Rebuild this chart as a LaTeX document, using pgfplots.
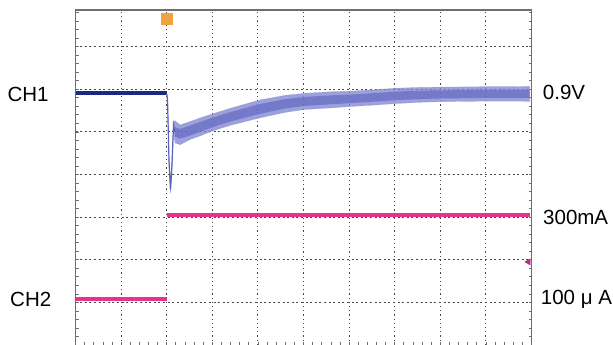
\documentclass[border=0pt]{standalone}
\usepackage{pgfplots}
\pgfplotsset{compat=1.18}
\usepackage{fontspec}
\setmainfont{Liberation Sans}
\definecolor{framegray}{HTML}{6E6E6E}
\definecolor{gridgray}{HTML}{4A4A4A}
\definecolor{navy}{HTML}{1C2A86}
\definecolor{bandblue}{HTML}{8389D2}
\definecolor{coreblue}{HTML}{5A62BE}
\definecolor{pinkch}{HTML}{E3207C}
\definecolor{trigor}{HTML}{EFA23E}
\definecolor{markpink}{HTML}{B42A8E}
\begin{document}
\begin{tikzpicture}
\path[use as bounding box] (0,0) rectangle (613pt,345pt);
\begin{axis}[
  at={(75.5pt,0pt)}, anchor=south west,
  scale only axis, width=456pt, height=335pt,
  xmin=0, xmax=10, ymin=0, ymax=7.86,
  xtick={0,...,10}, ytick={0,...,7},
  minor xtick={0,0.2,...,10}, minor ytick={0,0.2,...,7.8},
  xticklabels={}, yticklabels={},
  xtick pos=bottom, ytick pos=both,
  tick align=inside,
  major tick length=3pt, minor tick length=3pt,
  tick style={framegray, line width=0.7pt},
  axis line style={draw=none},
  grid=major,
  major x grid style={gridgray, line width=0.9pt, dash pattern=on 1.2pt off 3pt},
  major y grid style={gridgray, line width=0.9pt, dash pattern=on 2pt off 2.6pt},
  clip=false,
]
% frame (top, left, right)
\draw[framegray, line width=1.4pt] (axis cs:0,0) -- (axis cs:0,7.86) -- (axis cs:10,7.86) -- (axis cs:10,0);

% CH2 (pink)
\addplot[pinkch, line width=3.6pt, opacity=0.9] coordinates {(0,1.08) (2.0,1.08)};
\addplot[pinkch, line width=3.6pt, opacity=0.9] coordinates {(2.0,3.045) (9.97,3.045)};

% CH1 pre-trigger
\addplot[navy, line width=3.8pt] coordinates {(0,5.92) (2.0,5.92)};

% CH1 post-trigger noisy band (outer envelope)
\addplot[fill=bandblue, draw=bandblue, line width=0.4pt, fill opacity=0.8, draw opacity=0.5] coordinates {
(2.000,5.90) (2.018,5.798) (2.050,4.420) (2.083,3.717) (2.116,4.320) (2.149,5.254)
(2.182,5.260) (2.292,5.163) (2.511,5.240) (2.730,5.327) (3.015,5.425) (3.388,5.552)
(4.046,5.750) (4.594,5.857) (5.033,5.906) (5.581,5.941) (6.020,5.955) (6.568,5.990)
(7.029,6.025) (7.555,6.044) (8.015,6.050) (8.542,6.055) (9.024,6.062) (9.529,6.062) (9.960,6.067)
(9.960,5.717) (9.529,5.722) (9.024,5.722) (8.542,5.715) (8.015,5.710) (7.555,5.694)
(7.029,5.665) (6.568,5.630) (6.020,5.595) (5.581,5.561) (5.033,5.526) (4.594,5.457)
(4.046,5.330) (3.388,5.152) (3.015,5.025) (2.730,4.907) (2.511,4.820) (2.292,4.700)
(2.182,4.740) (2.149,5.054) (2.116,4.125) (2.083,3.559) (2.050,4.266) (2.018,5.704) (2.000,5.85)
} -- cycle;
% inner denser core
\addplot[fill=coreblue, draw=none, fill opacity=0.6] coordinates {
(2.182,5.110) (2.292,5.068) (2.511,5.145) (2.730,5.232) (3.015,5.335) (3.388,5.462)
(4.046,5.655) (4.594,5.767) (5.033,5.821) (5.581,5.856) (6.020,5.875) (6.568,5.910)
(7.029,5.945) (7.555,5.969) (8.015,5.975) (8.542,5.980) (9.024,5.987) (9.529,5.987) (9.960,5.987)
(9.960,5.797) (9.529,5.797) (9.024,5.797) (8.542,5.790) (8.015,5.785) (7.555,5.769)
(7.029,5.745) (6.568,5.710) (6.020,5.675) (5.581,5.646) (5.033,5.611) (4.594,5.547)
(4.046,5.425) (3.388,5.242) (3.015,5.115) (2.730,5.002) (2.511,4.915) (2.292,4.838) (2.182,4.890)
} -- cycle;
% spike trace
\addplot[coreblue, line width=1.2pt] coordinates {
(2.000,5.90) (2.018,5.751) (2.050,4.343) (2.083,3.638) (2.116,4.225) (2.149,5.164) (2.182,5.000)
};

% trigger marker and CH2 reference marker
\addplot[only marks, mark=square*, mark size=5.2pt, mark options={fill=trigor, draw=trigor, rounded corners=1pt}] coordinates {(2.0,7.66)};
\addplot[only marks, mark=triangle*, mark size=3.5pt, mark options={rotate=90, fill=markpink, draw=markpink}] coordinates {(9.93,1.95)};
\end{axis}
\begin{scope}[every node/.style={inner sep=0pt, anchor=base west, font=\fontsize{20.5}{24}\selectfont}]
\node at (7.3pt,243.7pt) {CH1};
\node at (10pt,38pt) {CH2};
\node at (542.7pt,245.7pt) {0.9V};
\node at (543pt,120.2pt) {300mA};
\node at (540.7pt,40.7pt) {100 μ A};
\end{scope}
\end{tikzpicture}
\end{document}
